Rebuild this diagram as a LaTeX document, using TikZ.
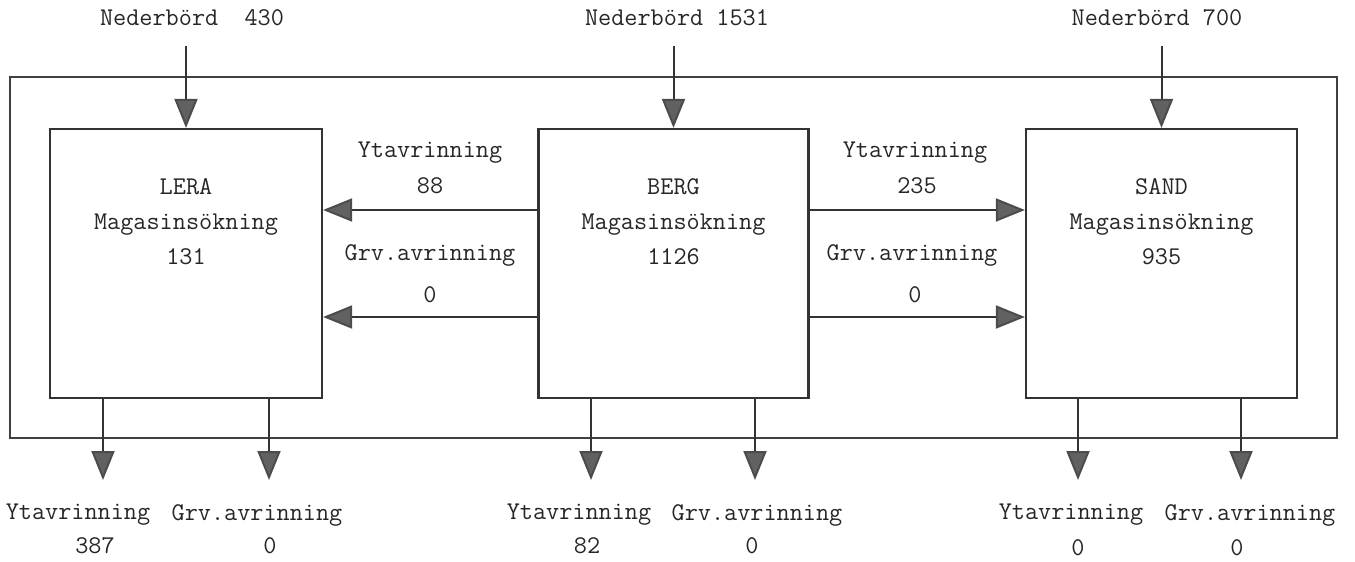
\documentclass[tikz,border=0pt]{standalone}
\usetikzlibrary{arrows.meta}
\begin{document}
\begin{tikzpicture}[x=1pt,y=-1pt,
  every node/.style={font=\ttfamily\fontsize{25.5}{35}\selectfont, text=black!85, inner sep=0pt},
  boxnode/.style={draw=black!80, line width=2.2pt, rectangle, minimum width=#1, minimum height=269pt},
  lbl/.style={align=center},
  arr/.style={draw=black!80, line width=2pt, -{Triangle[length=29pt,width=23pt,fill=black!62,color=black!70]}}
]
\useasboundingbox (0,0) rectangle (1355,562);
% outer frame
\node[draw=black!75, line width=2.2pt, rectangle, minimum width=1327pt, minimum height=361pt] (outer) at (673.5,257.5) {};
% boxes
\node[boxnode=272pt] (lera) at (186,263.5) {};
\node[boxnode=270pt] (berg) at (673.5,263.5) {};
\node[boxnode=271pt] (sand) at (1161.5,263.5) {};
% box texts
\node[lbl] (leraT) at (186,222) {LERA\\Magasinsökning\\131};
\node[lbl] (bergT) at (673.5,222) {BERG\\Magasinsökning\\1126};
\node[lbl] (sandT) at (1161.5,222) {SAND\\Magasinsökning\\935};
% precipitation
\node (n1) at (192,18) {Nederbörd\ \ 430};
\node (n2) at (677,18) {Nederbörd 1531};
\node (n3) at (1157,18) {Nederbörd 700};
\coordinate (s1) at (186,46);
\coordinate (s2) at (673.5,46);
\coordinate (s3) at (1161.5,46);
\draw[arr] (s1) -- (lera.north);
\draw[arr] (s2) -- (berg.north);
\draw[arr] (s3) -- (sand.north);
% horizontal flows
\coordinate (yA) at (0,210);
\coordinate (yB) at (0,317);
\draw[arr] (berg.west |- yA) -- (lera.east |- yA);
\draw[arr] (berg.west |- yB) -- (lera.east |- yB);
\draw[arr] (berg.east |- yA) -- (sand.west |- yA);
\draw[arr] (berg.east |- yB) -- (sand.west |- yB);
\node[lbl] (lY) at (430,153) {Ytavrinning};
\node[lbl] (lYv) at (430,186) {88};
\node[lbl] (lG) at (430,255) {Grv.avrinning};
\node[lbl] (lGv) at (430,295) {0};
\node[lbl] (rY) at (915,153) {Ytavrinning};
\node[lbl] (rYv) at (917,186) {235};
\node[lbl] (rG) at (912,255) {Grv.avrinning};
\node[lbl] (rGv) at (915,295) {0};
% outflows
\coordinate (t1) at (103,480);
\coordinate (t2) at (269,480);
\coordinate (t3) at (591,480);
\coordinate (t4) at (755,480);
\coordinate (t5) at (1078,480);
\coordinate (t6) at (1241,480);
\draw[arr] (lera.south -| t1) -- (t1);
\draw[arr] (lera.south -| t2) -- (t2);
\draw[arr] (berg.south -| t3) -- (t3);
\draw[arr] (berg.south -| t4) -- (t4);
\draw[arr] (sand.south -| t5) -- (t5);
\draw[arr] (sand.south -| t6) -- (t6);
% outflow labels
\node (o1) at (78,515) {Ytavrinning};
\node (o2) at (257,515) {Grv.avrinning};
\node (o1v) at (95,546) {387};
\node (o2v) at (270,546) {0};
\node (o3) at (579,515) {Ytavrinning};
\node (o4) at (757,515) {Grv.avrinning};
\node (o3v) at (587,546) {82};
\node (o4v) at (752,546) {0};
\node (o5) at (1071,515) {Ytavrinning};
\node (o6) at (1250,515) {Grv.avrinning};
\node (o5v) at (1078,548) {0};
\node (o6v) at (1237,548) {0};
\end{tikzpicture}
\end{document}
